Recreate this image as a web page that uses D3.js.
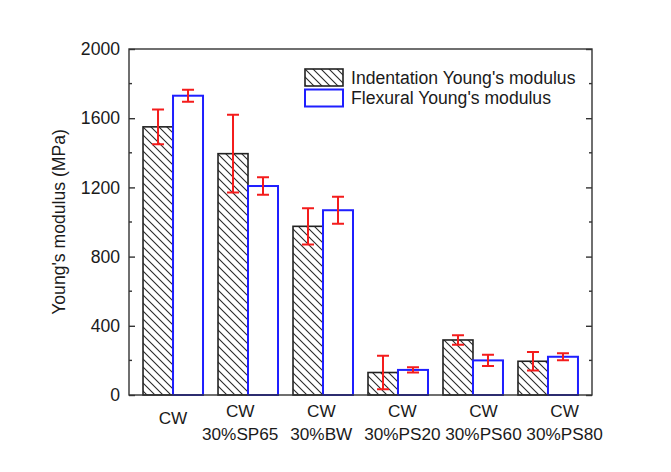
<!DOCTYPE html>
<html>
<head>
<meta charset="utf-8">
<script src="https://cdn.jsdelivr.net/npm/d3@7"></script>
<style>
  html, body { margin: 0; padding: 0; background: #fff; }
  svg { display: block; font-family: "Liberation Sans", Arial, sans-serif; }
</style>
</head>
<body>
<svg id="chart" width="671" height="472"></svg>
<script>
// Sample groups (tick labels are split into lines on the space)
const categories = ["CW", "CW 30%SP65", "CW 30%BW", "CW 30%PS20", "CW 30%PS60", "CW 30%PS80"];
// Indentation Young's modulus (MPa) and its standard deviation
const indentation = [1550, 1395, 975, 130, 318, 195];
const indentationErr = [100, 225, 105, 97, 28, 53];
// Flexural Young's modulus (MPa) and its standard deviation
const flexural = [1730, 1208, 1068, 145, 200, 221];
const flexuralErr = [35, 50, 78, 15, 33, 20];
const seriesNames = ["Indentation Young's modulus", "Flexural Young's modulus"];
const yMajorTicks = [0, 400, 800, 1200, 1600, 2000];

(function () {
  const svg = d3.select("#chart");
  const plotLeft = 129, plotRight = 592, plotTop = 49, plotBottom = 395;
  const frameColor = "#333";
  const textColor = "#1a1a1a";
  const blue = "#1f1fff";
  const red = "#f41c1c";
  const fontSize = 17.6;
  const labelFontSize = 17.2;

  // Diagonal hatch for the indentation bars
  const defs = svg.append("defs");
  const pat = defs.append("pattern")
    .attr("id", "hatch")
    .attr("patternUnits", "userSpaceOnUse")
    .attr("width", 8).attr("height", 8);
  pat.append("rect").attr("width", 8).attr("height", 8).attr("fill", "#fff");
  pat.append("path")
    .attr("d", "M0,0 L8,8 M-2,6 L2,10 M6,-2 L10,2")
    .attr("stroke", "#2a2a2a").attr("stroke-width", 1.1);

  const x = d3.scaleBand()
    .domain(categories)
    .range([plotLeft, plotRight])
    .paddingInner(0.2)
    .paddingOuter(0.187);
  const xSub = d3.scaleBand()
    .domain([0, 1])
    .range([0, x.bandwidth()]);
  const y = d3.scaleLinear().domain([0, 2000]).range([plotBottom, plotTop]);
  const mid = c => x(c) + x.bandwidth() / 2;

  const rows = categories.map((c, i) => [
    { cat: c, s: 0, v: indentation[i], e: indentationErr[i] },
    { cat: c, s: 1, v: flexural[i], e: flexuralErr[i] }
  ]).flat();

  // Bars
  svg.append("g").selectAll("rect")
    .data(rows)
    .join("rect")
    .attr("x", d => x(d.cat) + xSub(d.s))
    .attr("y", d => y(d.v))
    .attr("width", xSub.bandwidth())
    .attr("height", d => y(0) - y(d.v))
    .attr("fill", d => d.s === 0 ? "url(#hatch)" : "#fff")
    .attr("stroke", d => d.s === 0 ? "#222" : blue)
    .attr("stroke-width", d => d.s === 0 ? 1.6 : 2);

  // Error bars
  const eb = svg.append("g")
    .attr("stroke", red)
    .attr("stroke-width", 2)
    .attr("fill", "none");
  const cx = d => x(d.cat) + xSub(d.s) + xSub.bandwidth() / 2;
  const capW = 6;
  eb.selectAll("path")
    .data(rows)
    .join("path")
    .attr("d", d => {
      const c = cx(d), t = y(d.v + d.e), b = y(d.v - d.e);
      return `M${c},${t}V${b}M${c - capW},${t}H${c + capW}M${c - capW},${b}H${c + capW}`;
    });

  // Frame
  svg.append("rect")
    .attr("x", plotLeft).attr("y", plotTop)
    .attr("width", plotRight - plotLeft).attr("height", plotBottom - plotTop)
    .attr("fill", "none").attr("stroke", frameColor).attr("stroke-width", 1.4);

  // Left axis with inward ticks, minor ticks between labelled ones
  const yMinor = d3.range(200, 2000, 400);
  const axisL = svg.append("g").attr("transform", `translate(${plotLeft},0)`);
  axisL.call(d3.axisLeft(y).tickValues(yMajorTicks).tickFormat(d3.format("d"))
      .tickSizeInner(-6).tickSizeOuter(0).tickPadding(9))
    .call(g => g.select(".domain").remove())
    .call(g => g.selectAll(".tick line").attr("stroke", frameColor).attr("stroke-width", 1.4))
    .call(g => g.selectAll(".tick text")
      .attr("fill", textColor).attr("font-size", fontSize)
      .attr("font-family", "'Liberation Sans', Arial, sans-serif"));
  axisL.selectAll(".minor").data(yMinor).join("line")
    .attr("class", "minor")
    .attr("x1", 0).attr("x2", 3)
    .attr("y1", d => y(d)).attr("y2", d => y(d))
    .attr("stroke", frameColor).attr("stroke-width", 1.4);

  // Right axis mirrors the ticks
  const axisR = svg.append("g").attr("transform", `translate(${plotRight},0)`);
  axisR.call(d3.axisRight(y).tickValues(yMajorTicks).tickSizeInner(-6).tickSizeOuter(0).tickFormat(""))
    .call(g => g.select(".domain").remove())
    .call(g => g.selectAll(".tick line").attr("stroke", frameColor).attr("stroke-width", 1.4));
  axisR.selectAll(".minor").data(yMinor).join("line")
    .attr("class", "minor")
    .attr("x1", 0).attr("x2", -3)
    .attr("y1", d => y(d)).attr("y2", d => y(d))
    .attr("stroke", frameColor).attr("stroke-width", 1.4);

  // Y axis title
  svg.append("text")
    .attr("transform", `translate(65,${(plotTop + plotBottom) / 2}) rotate(-90)`)
    .attr("text-anchor", "middle")
    .attr("font-size", fontSize)
    .attr("fill", textColor)
    .text("Young's modulus (MPa)");

  // Category labels: the single-line one sits under its group, the two-line
  // blends are spread a little wider than the bar groups
  const single = categories.filter(c => c.split(" ").length === 1);
  const multi = categories.filter(c => c.split(" ").length > 1);
  const xLabel = d3.scalePoint()
    .domain(multi)
    .range([mid(multi[0]) - 7.8, mid(multi[multi.length - 1]) + 16.6]);
  const labels = svg.append("g")
    .attr("font-size", labelFontSize)
    .attr("fill", textColor)
    .attr("text-anchor", "middle");
  labels.selectAll("text.single").data(single).join("text")
    .attr("class", "single")
    .attr("x", c => mid(c))
    .attr("y", plotBottom + 28.5)
    .text(c => c);
  labels.selectAll("text.multi").data(multi).join("text")
    .attr("class", "multi")
    .each(function (c) {
      d3.select(this).selectAll("tspan").data(c.split(" ")).join("tspan")
        .attr("x", xLabel(c))
        .attr("y", (ln, k) => plotBottom + 22 + k * 22.6)
        .text(ln => ln);
    });

  // Legend
  const legend = svg.append("g").attr("transform", "translate(305,69)");
  seriesNames.forEach((name, i) => {
    const g = legend.append("g").attr("transform", `translate(0,${i * 20.5})`);
    g.append("rect")
      .attr("width", 38).attr("height", 17)
      .attr("fill", i === 0 ? "url(#hatch)" : "#fff")
      .attr("stroke", i === 0 ? "#222" : blue)
      .attr("stroke-width", i === 0 ? 1.6 : 2);
    g.append("text")
      .attr("x", 46).attr("y", 14.5)
      .attr("font-size", fontSize)
      .attr("fill", textColor)
      .text(name);
  });
})();
</script>
</body>
</html>
